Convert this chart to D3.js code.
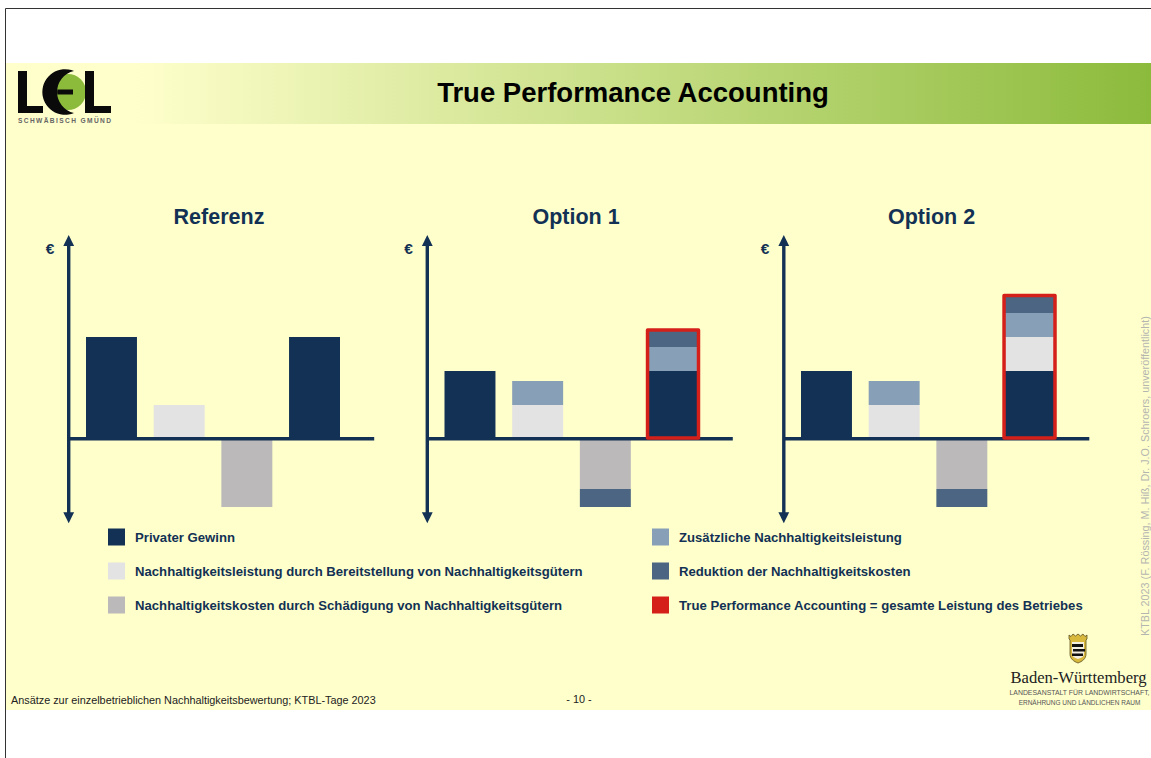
<!DOCTYPE html>
<html>
<head>
<meta charset="utf-8">
<script src="https://d3js.org/d3.v7.min.js"></script>
<style>
  html, body { margin: 0; padding: 0; background: #fff; }
  svg { display: block; }
  text { font-family: "Liberation Sans", Arial, sans-serif; }
</style>
</head>
<body>
<div id="chart"></div>
<script>
// chart data
var panelTitles = ["Referenz", "Option 1", "Option 2"];
var barSlots = ["gewinn", "leistung", "kosten", "tpa"];

var gewinn = [101, 67, 67];
var leistung = [33, 33, 33];
var kosten = [-69, -51, -51];
var zusatz = [0, 24, 24];
var reduktion = [0, -18, -18];

// top bar stacks, bottom to top: [series key, value]
var tpaReferenz = [["gewinn", 101]];
var tpaOption1 = [["gewinn", 67], ["zusatz", 24], ["reduktion", 17]];
var tpaOption2 = [["gewinn", 67], ["leistung", 34], ["zusatz", 24], ["reduktion", 17.5]];

var legendLeft = ["Privater Gewinn",
  "Nachhaltigkeitsleistung durch Bereitstellung von Nachhaltigkeitsgütern",
  "Nachhaltigkeitskosten durch Schädigung von Nachhaltigkeitsgütern"];
var legendRight = ["Zusätzliche Nachhaltigkeitsleistung",
  "Reduktion der Nachhaltigkeitskosten",
  "True Performance Accounting = gesamte Leistung des Betriebes"];
var legendLeftKeys = ["gewinn", "leistung", "kosten"];
var legendRightKeys = ["zusatz", "reduktion", "red"];

var colors = {
  gewinn: "#123154",
  leistung: "#e3e3e3",
  kosten: "#bbb9b9",
  zusatz: "#88a0b7",
  reduktion: "#4b6583",
  red: "#d5201a"
};
var navy = "#123154";

var width = 1151, height = 758;
var svg = d3.select("#chart").append("svg")
  .attr("width", width)
  .attr("height", height);

// background
var defs = svg.append("defs");
var grad = defs.append("linearGradient").attr("id", "headerGrad");
grad.append("stop").attr("offset", "0.11").attr("stop-color", "#ffffcc");
grad.append("stop").attr("offset", "1").attr("stop-color", "#8cbb3c");

svg.append("rect").attr("x", 6).attr("y", 63).attr("width", 1145).attr("height", 647).attr("fill", "#ffffcc");
svg.append("rect").attr("x", 6).attr("y", 63).attr("width", 1145).attr("height", 61).attr("fill", "url(#headerGrad)");
svg.append("path").attr("d", "M5.5,758V8.5H1151").attr("fill", "none").attr("stroke", "#333").attr("stroke-width", 1);

svg.append("text").attr("x", 633).attr("y", 102).attr("text-anchor", "middle")
  .attr("font-size", 27.5).attr("font-weight", "bold").attr("fill", "#000")
  .text("True Performance Accounting");

// LEL logo
var logo = svg.append("g");
logo.append("circle").attr("cx", 68).attr("cy", 92).attr("r", 18).attr("fill", "#8cbb3c");
logo.append("path").attr("fill", "#0a0a0a")
  .attr("d", "M18,71h9v35h16v7h-25z M85,71h9v35h17v7h-26z");
logo.append("path").attr("fill", "#0a0a0a")
  .attr("d", "M74,71A22.8,22.8 0 1 0 74,113A21.5,21.5 0 0 1 74,71z M57,89.5h16v5h-16z");
logo.append("text").attr("x", 18).attr("y", 123).attr("font-size", 6.6).attr("font-weight", "bold")
  .attr("textLength", 93).attr("fill", "#666").text("SCHWÄBISCH GMÜND");

// panels
var panelAxisX = [68.7, 427.3, 783.8];
var panelBarStart = [86, 444.5, 801];
var panelTitleX = [219, 576, 931.5];
var y = d3.scaleLinear().domain([-85, 202]).range([523, 236]);

var tpaStacks = [tpaReferenz, tpaOption1, tpaOption2];

panelTitles.forEach(function(title, i) {
  var ax = panelAxisX[i];
  var start = panelBarStart[i];
  var x = d3.scaleBand().domain(barSlots)
    .range([start, start + 254])
    .paddingInner(0.247);
  var g = svg.append("g");

  g.append("text").attr("x", panelTitleX[i]).attr("y", 224).attr("text-anchor", "middle")
    .attr("font-size", 21.5).attr("font-weight", "bold").attr("fill", navy)
    .text(title);
  g.append("text").attr("x", ax - 18.7).attr("y", 254).attr("text-anchor", "middle")
    .attr("font-size", 15.5).attr("font-weight", "bold").attr("fill", navy)
    .text("€");

  function bar(slot, from, to, key) {
    g.append("rect")
      .attr("x", x(slot))
      .attr("width", x.bandwidth())
      .attr("y", y(Math.max(from, to)))
      .attr("height", Math.abs(y(from) - y(to)))
      .attr("fill", colors[key]);
  }

  bar("gewinn", 0, gewinn[i], "gewinn");
  bar("leistung", 0, leistung[i], "leistung");
  if (zusatz[i]) bar("leistung", leistung[i], leistung[i] + zusatz[i], "zusatz");
  bar("kosten", 0, kosten[i], "kosten");
  if (reduktion[i]) bar("kosten", kosten[i], kosten[i] + reduktion[i], "reduktion");

  // axes
  g.append("line").attr("x1", ax).attr("x2", ax + 305.5).attr("y1", y(0) + 0.7).attr("y2", y(0) + 0.7)
    .attr("stroke", navy).attr("stroke-width", 3.4);
  g.append("line").attr("x1", ax).attr("x2", ax).attr("y1", y.range()[1] + 8).attr("y2", y.range()[0] - 8)
    .attr("stroke", navy).attr("stroke-width", 3.4);
  g.append("path")
    .attr("d", "M" + ax + "," + (y.range()[1] - 1) + "l5.4,11h-10.8z").attr("fill", navy);
  g.append("path")
    .attr("d", "M" + ax + "," + (y.range()[0] + 0.3) + "l5.4,-11h-10.8z").attr("fill", navy);

  // stacked total bar, drawn over the baseline
  var sum = 0;
  tpaStacks[i].forEach(function(d) {
    bar("tpa", sum, sum + d[1], d[0]);
    sum += d[1];
  });
  if (i > 0) {
    g.append("rect")
      .attr("x", x("tpa")).attr("width", x.bandwidth())
      .attr("y", y(sum)).attr("height", y(0) - y(sum))
      .attr("fill", "none").attr("stroke", colors.red).attr("stroke-width", 3.5)
      .attr("stroke-linejoin", "round");
  }
});

// legend
function legend(labels, keys, lx) {
  var rowY = d3.scalePoint().domain(labels).range([537, 605]);
  labels.forEach(function(label, i) {
    svg.append("rect").attr("x", lx).attr("y", rowY(label) - 8.5).attr("width", 17).attr("height", 17)
      .attr("fill", colors[keys[i]]);
    svg.append("text").attr("x", lx + 27).attr("y", rowY(label) + 4.5)
      .attr("font-size", 13.15).attr("font-weight", "bold").attr("fill", navy)
      .text(label);
  });
}
legend(legendLeft, legendLeftKeys, 108);
legend(legendRight, legendRightKeys, 652);

// footer
svg.append("text").attr("x", 11).attr("y", 704).attr("font-size", 10.85).attr("fill", "#222")
  .text("Ansätze zur einzelbetrieblichen Nachhaltigkeitsbewertung; KTBL-Tage 2023");
svg.append("text").attr("x", 579).attr("y", 703).attr("text-anchor", "middle").attr("font-size", 10.85).attr("fill", "#222")
  .text("- 10 -");
svg.append("text").attr("transform", "translate(1148.5,636) rotate(-90)")
  .attr("font-size", 10.8).attr("fill", "#b5b5b0")
  .text("KTBL 2023 (F. Rössing, M. Hiß, Dr. J.O. Schroers, unveröffentlicht)");

// Baden-Württemberg mark
var crest = svg.append("g");
crest.append("path").attr("fill", "#d8b93e").attr("stroke", "#5d5020").attr("stroke-width", 0.8)
  .attr("d", "M1069,639v-4l2,1.5 2,-2.5 2.5,2 2.5,-2 2.5,2 2.5,-2 2,2.5 2,-1.5v4l-1,1v14c0,5 -4,7.5 -8,9c-4,-1.5 -8,-4 -8,-9v-14z");
crest.append("path").attr("fill", "#f2efe0").attr("d", "M1072,642h12v12c0,2 -2,4 -6,5c-4,-1 -6,-3 -6,-5z");
crest.append("path").attr("fill", "#111").attr("d", "M1072,644h11v3h-11z M1073,649h12v2.5h-12z M1072,653.5h11v2.5h-11z");
svg.append("text").attr("x", 1078.5).attr("y", 683).attr("text-anchor", "middle")
  .style("font-family", "'Liberation Serif', serif")
  .attr("font-size", 16.6).attr("fill", "#222").text("Baden-Württemberg");
svg.append("text").attr("x", 1079.5).attr("y", 695).attr("text-anchor", "middle")
  .attr("font-size", 6.9).attr("fill", "#555").text("LANDESANSTALT FÜR LANDWIRTSCHAFT,");
svg.append("text").attr("x", 1079.5).attr("y", 705).attr("text-anchor", "middle")
  .attr("font-size", 6.5).attr("fill", "#555").text("ERNÄHRUNG UND LÄNDLICHEN RAUM");
</script>
</body>
</html>
